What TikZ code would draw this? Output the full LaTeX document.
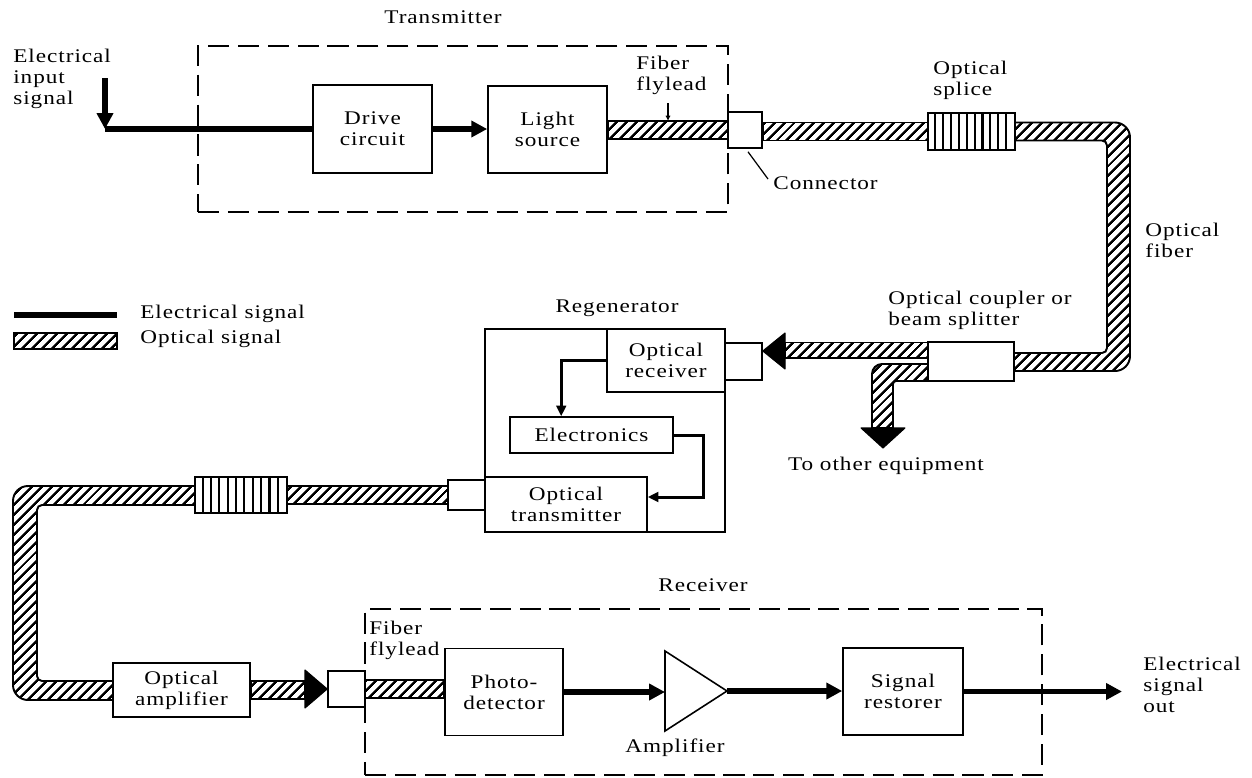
\documentclass[tikz,border=0pt]{standalone}
\usepackage{fontspec}
\setmainfont{Liberation Serif}[FakeStretch=1.2,LetterSpace=5]
\usetikzlibrary{arrows.meta,patterns.meta,calc}
\begin{document}
\begin{tikzpicture}[x=0.02cm,y=-0.02cm,
  font=\fontsize{11}{11.95}\selectfont,
  box/.style={draw,line width=0.9pt,fill=white,align=center,inner sep=0pt},
  lbl/.style={inner sep=0pt,align=left,anchor=west},
  clbl/.style={inner sep=0pt,align=center},
  dashbox/.style={draw,line width=1.2pt,dash pattern=on 12pt off 5pt,inner sep=0pt},
  fiber/.style={draw,line width=1.1pt,pattern={Lines[angle=45,distance=4pt,line width=1.4pt]}},
  elec/.style={line width=2.9pt},
  elecarrow/.style={line width=2.9pt,-{Triangle[length=9pt,width=9pt]}},
  thinarrow/.style={line width=1.7pt,-{Triangle[length=6pt,width=5.5pt]}},
  bighead/.style={fill=black,draw=black,line width=0.6pt,line join=round},
  splicebar/.style={line width=1.2pt},
  leader/.style={line width=0.7pt}]
\useasboundingbox (0,0) rectangle (1252,778);

% ---------- enclosures ----------
\node[dashbox,minimum width=10.6cm,minimum height=3.32cm] (txbox) at (463,129) {};
\node[dashbox,minimum width=13.54cm,minimum height=3.32cm] (rxbox) at (703.5,692) {};
\node[draw,line width=0.9pt,minimum width=4.8cm,minimum height=4.06cm,inner sep=0pt] (regbox) at (605,430.5) {};

% ---------- box nodes ----------
\node[box,minimum width=2.38cm,minimum height=1.76cm] (drive) at (372.5,129) {Drive\\circuit};
\node[box,minimum width=2.38cm,minimum height=1.74cm] (light) at (547.5,129.5) {Light\\source};
\node[box,minimum width=2.36cm,minimum height=1.26cm] (orx) at (666,360.5) {Optical\\receiver};
\node[box,minimum width=3.26cm,minimum height=0.72cm] (elecb) at (591.5,435) {Electronics};
\node[box,minimum width=3.24cm,minimum height=1.10cm] (otx) at (566,504.5) {Optical\\transmitter};
\node[box,minimum width=2.74cm,minimum height=1.08cm] (oamp) at (181.5,690) {Optical\\amplifier};
\node[box,minimum width=2.36cm,minimum height=1.74cm] (pd) at (504,692) {Photo-\\detector};
\node[box,minimum width=2.40cm,minimum height=1.74cm] (rest) at (903,691.5) {Signal\\restorer};

% ---------- fibre bands ----------
\path[fiber] ($(light.east)+(0,-8.5)$) rectangle (728,139);
\path[fiber] (763,122.5) rectangle (928,140.5);
\path[fiber] (928,122.5) [rounded corners=0.3cm] -- (1130,122.5) -- (1130,371) [sharp corners] -- (1014,371) -- (1014,353) [rounded corners=0.1cm] -- (1107,353) -- (1107,140.5) [sharp corners] -- (928,140.5) -- cycle;
\path[fiber] (785,342.5) rectangle (928,358);
\path[fiber] (928,364) [rounded corners=0.2cm] -- (872,364) [sharp corners] -- (872,428) -- (893,428) [rounded corners=0.06cm] -- (893,381) [sharp corners] -- (928,381) -- cycle;
\path[fiber] (287,486) rectangle (448,504);
\path[fiber] (195,486) [rounded corners=0.3cm] -- (13,486) -- (13,700) [sharp corners] -- (113,700) -- (113,681) [rounded corners=0.1cm] -- (37,681) -- (37,505) [sharp corners] -- (195,505) -- cycle;
\path[fiber] ($(oamp.east)+(0,-9)$) rectangle (305,699);
\path[fiber] (365,680) rectangle ($(pd.west)+(0,6)$);

% ---------- connectors / splices / coupler ----------
\node[box,minimum width=0.68cm,minimum height=0.72cm] (conn1) at (745,130) {};
\node[box,minimum width=1.74cm,minimum height=0.74cm] (splice1) at (971.5,131.5) {};
\foreach \i in {1,...,10} \draw[splicebar] ($(splice1.north west)+(\i*7.9,0)$) -- ++(0,37);
\node[box,minimum width=1.72cm,minimum height=0.78cm] (coupler) at (971,361.5) {};
\node[box,minimum width=0.74cm,minimum height=0.74cm] (rconn) at (743.5,361.5) {};
\node[box,minimum width=0.74cm,minimum height=0.60cm] (tconn) at (466.5,495) {};
\node[box,minimum width=1.84cm,minimum height=0.72cm] (splice2) at (241,495) {};
\foreach \i in {1,...,10} \draw[splicebar] ($(splice2.north west)+(\i*8.36,0)$) -- ++(0,36);
\node[box,minimum width=0.74cm,minimum height=0.72cm] (conn2) at (346.5,689) {};

% ---------- big optical arrow heads ----------
\path[bighead] (785,333) -- (785,369) -- ($(rconn.east)+(0,-10.5)$) -- cycle;
\path[bighead] (861,428) -- (905,428) -- (883,448) -- cycle;
\path[bighead] (305,670) -- (305,708) -- (conn2.west) -- cycle;

% ---------- amplifier ----------
\coordinate (ampA) at (665,651);
\coordinate (ampB) at (665,731);
\coordinate (ampT) at (727,691);
\draw[line width=0.9pt,line join=miter] (ampA) -- (ampT) -- (ampB) -- cycle;

% ---------- electrical connections ----------
\coordinate (inTop) at (105,78);
\coordinate (inCorner) at (105,129);
\draw[elec] (inCorner) -- (drive.west);
\draw[elecarrow] (inTop) -- (inCorner);
\draw[elecarrow] (drive.east) -- (light.west |- drive.east);
\draw[elecarrow] (pd.east) -- (pd.east -| ampA);
\draw[elecarrow] (ampT) -- (ampT -| rest.west);
\coordinate (outEnd) at (1122,691.5);
\draw[elecarrow] (rest.east) -- (outEnd);
\draw[thinarrow] (orx.west) -| ($(elecb.north west)+(52,0)$);
\draw[thinarrow] (elecb.east) -- ++(30,0) |- ($(otx.east)+(0,-7.5)$);

% ---------- legend ----------
\coordinate (legA) at (14,315);
\coordinate (legB) at (117,315);
\draw[elec] (legA) -- (legB);
\path[fiber] (14,333) rectangle (117,349);
\node[lbl] (legE) at (140,314) {Electrical signal};
\node[lbl] (legO) at (140,339) {Optical signal};

% ---------- labels ----------
\node[clbl] (ltx) at (443,17) {Transmitter};
\node[lbl] (lin) at (13,79) {Electrical\\input\\signal};
\node[lbl] (lffl1) at (636,75) {Fiber\\flylead};
\draw[leader,-{Latex[length=3pt,width=3pt]}] (668,103) -- (668,121);
\node[lbl] (lsp) at (933,80) {Optical\\splice};
\node[lbl] (lcon) at (773,183) {Connector};
\draw[leader] ($(conn1.south)+(3,3)$) -- ($(lcon.west)+(-5,-4)$);
\node[lbl] (lfib) at (1145,240) {Optical\\fiber};
\node[lbl] (lcpl) at (888,310) {Optical coupler or\\beam splitter};
\node[clbl] (lreg) at (617,308) {Regenerator};
\node[clbl] (lother) at (886,466) {To other equipment};
\node[clbl] (lrx) at (703,585) {Receiver};
\node[lbl] (lffl2) at (369,640) {Fiber\\flylead};
\node[clbl] (lamp) at (675,748) {Amplifier};
\node[lbl] (lout) at (1143,685) {Electrical\\signal\\out};
\end{tikzpicture}
\end{document}
